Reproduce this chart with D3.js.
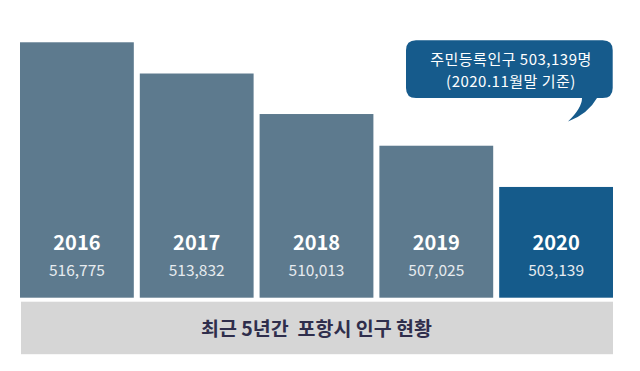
<!DOCTYPE html>
<html><head><meta charset="utf-8">
<script src="https://cdn.jsdelivr.net/npm/d3@7"></script>
<style>html,body{margin:0;padding:0;background:#fff;}svg{display:block;}</style>
</head><body>
<svg id="c" width="640" height="371"></svg>
<script>
const years = ["2016","2017","2018","2019","2020"];
const population = [516775, 513832, 510013, 507025, 503139];
const valueLabels = ["516,775","513,832","510,013","507,025","503,139"];
const title = "최근 5년간  포항시 인구 현황";
const calloutLines = ["주민등록인구 503,139명", "(2020.11월말 기준)"];

const font = "'Noto Sans CJK KR', 'Noto Sans', sans-serif";
const svg = d3.select("#c");
const x = d3.scaleBand().domain(years).range([20, 613]).paddingInner(0.05).paddingOuter(0);
const y = d3.scaleLinear().domain([492700, 517000]).range([297.7, 39.9]);

const data = years.map((yr, i) => ({yr, v: population[i], label: valueLabels[i]}));

svg.selectAll("rect.bar").data(data).join("rect")
  .attr("class","bar")
  .attr("x", d => x(d.yr)).attr("width", x.bandwidth())
  .attr("y", d => y(d.v)).attr("height", d => y.range()[0] - y(d.v))
  .attr("fill", d => d.yr === "2020" ? "#155b8b" : "#5d7a8e");

svg.selectAll("text.yr").data(data).join("text")
  .attr("class","yr")
  .attr("x", d => x(d.yr) + x.bandwidth()/2).attr("y", 250)
  .attr("text-anchor","middle").attr("fill","#fff")
  .style("font-family", font).style("font-weight","700").style("font-size","20px")
  .text(d => d.yr);

svg.selectAll("text.val").data(data).join("text")
  .attr("class","val")
  .attr("x", d => x(d.yr) + x.bandwidth()/2).attr("y", 276)
  .attr("text-anchor","middle").attr("fill","#e6ebef")
  .style("font-family", font).style("font-weight","400").style("font-size","15.5px")
  .text(d => d.label);

// title band
svg.append("rect").attr("x", 21).attr("y", 301.7).attr("width", 592).attr("height", 52.5).attr("fill","#d6d6d6");
svg.append("text").attr("x", 316.5).attr("y", 335.5).attr("text-anchor","middle")
  .attr("fill","#2f2e4c").style("font-family", font).style("font-weight","700").style("font-size","19.5px")
  .style("white-space","pre").attr("xml:space","preserve")
  .text(title);

// callout bubble
const bx0 = 406, bx1 = 612.7, by0 = 40.3, by1 = 98, r = 10;
const tip = [568, 121.5];
const p = d3.path();
p.moveTo(bx0 + r, by0);
p.lineTo(bx1 - r, by0);
p.quadraticCurveTo(bx1, by0, bx1, by0 + r);
p.lineTo(bx1, by1 - r);
p.quadraticCurveTo(bx1, by1, bx1 - r, by1);
p.lineTo(597, by1);
p.quadraticCurveTo(588, 114, tip[0], tip[1]);
p.quadraticCurveTo(582, 108, 582, by1);
p.lineTo(bx0 + r, by1);
p.quadraticCurveTo(bx0, by1, bx0, by1 - r);
p.lineTo(bx0, by0 + r);
p.quadraticCurveTo(bx0, by0, bx0 + r, by0);
p.closePath();
svg.append("path").attr("d", p.toString()).attr("fill", "#165b8c");

const call = svg.append("text")
  .attr("x", 511).attr("y", 64.5)
  .attr("text-anchor","middle").attr("fill","#fff")
  .style("font-family", font).style("font-weight","400").style("font-size","15px")
  .style("letter-spacing","0.5px");
call.selectAll("tspan").data(calloutLines).join("tspan")
  .attr("x", 511).attr("dy", (d,i) => i === 0 ? 0 : 22)
  .text(d => d);
</script>
</body></html>
